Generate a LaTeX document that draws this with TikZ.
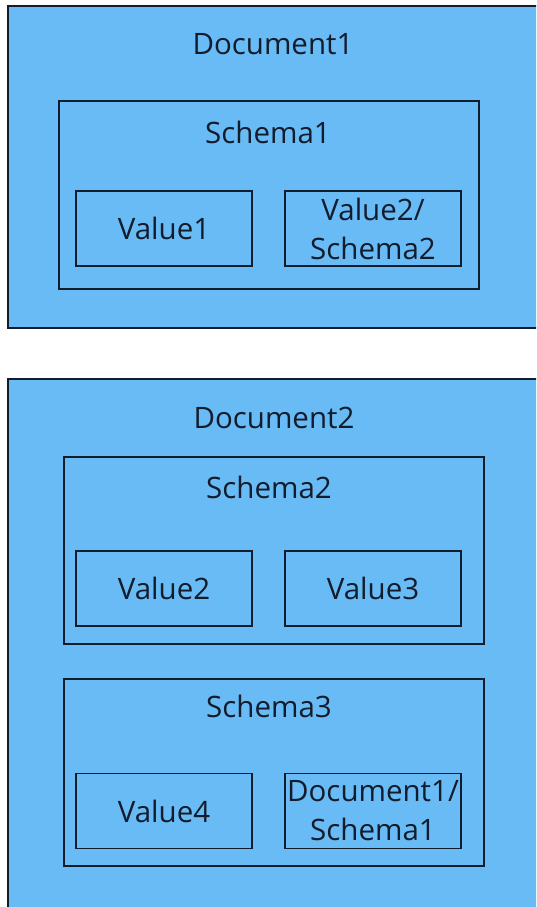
\documentclass[tikz,border=0pt]{standalone}
\usepackage{fontspec}
\setmainfont{Open Sans}
\definecolor{fillblue}{RGB}{104,187,245}
\definecolor{edgecol}{RGB}{18,28,44}
\begin{document}
\begin{tikzpicture}[x=1pt,y=-1pt,
  frame/.style={draw=edgecol, fill=fillblue, line width=1.4pt, rectangle, inner sep=0pt},
  outerframe/.style={frame, line width=1.6pt},
  valbox/.style={frame, minimum width=176pt, minimum height=75pt, text=edgecol,
    font=\fontsize{29.5}{39}\selectfont, align=center},
  lbl/.style={text=edgecol, font=\fontsize{29.5}{39}\selectfont, inner sep=0pt, anchor=base}]
\useasboundingbox (0,0) rectangle (536,907);
\clip (0,0) rectangle (536,907);
\fill[white] (0,0) rectangle (536,907);
% Document 1
\node[outerframe, minimum width=538pt, minimum height=322pt] (doc1) at (277,167) {};
\node[lbl] (doc1lbl) at (273,54.5) {Document1};
\node[frame, minimum width=420pt, minimum height=188pt] (sch1) at (269,195) {};
\node[lbl] (sch1lbl) at (268,143) {Schema1};
\node[valbox] (v1) at (164,228.5) {Value1};
\node[valbox] (v2s2) at (373,228.5) {Value2/\\Schema2};
% Document 2
\node[outerframe, minimum width=538pt, minimum height=538pt] (doc2) at (277,648) {};
\node[lbl] (doc2lbl) at (274,428.5) {Document2};
\node[frame, minimum width=420pt, minimum height=187pt] (sch2) at (274,550.5) {};
\node[lbl] (sch2lbl) at (269,498.5) {Schema2};
\node[valbox] (v2) at (164,588.5) {Value2};
\node[valbox] (v3) at (373,588.5) {Value3};
\node[frame, minimum width=420pt, minimum height=187pt] (sch3) at (274,772.5) {};
\node[lbl] (sch3lbl) at (269,717) {Schema3};
\node[valbox] (v4) at (164,811) {Value4};
\node[valbox] (d1s1) at (373,811) {Document1/\\Schema1};
\end{tikzpicture}
\end{document}
